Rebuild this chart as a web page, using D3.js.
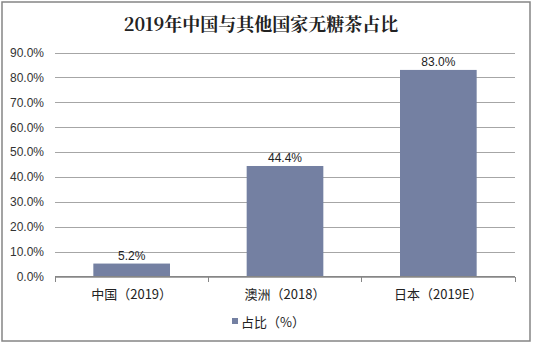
<!DOCTYPE html>
<html><head><meta charset="utf-8">
<script src="https://cdn.jsdelivr.net/npm/d3@7"></script>
<style>body{margin:0;background:#fff}svg{display:block}</style>
</head><body>
<svg id="c" width="534" height="345"></svg>
<script>
const title = "2019年中国与其他国家无糖茶占比";
const categories = ["中国（2019）", "澳洲（2018）", "日本（2019E）"];
const values = [5.2, 44.4, 83.0];
const yTicks = [0, 10, 20, 30, 40, 50, 60, 70, 80, 90];
const seriesName = "占比（%）";

const svg = d3.select("#c");
const W = 534, H = 345;
const m = {left: 55, right: 515, top: 52.5, bottom: 276.5};
const barColor = "#7480a2";

svg.append("rect").attr("x", 2).attr("y", 2).attr("width", 528).attr("height", 339)
  .attr("fill", "#fff").attr("stroke", "#858585").attr("stroke-width", 1.5);

svg.append("text").attr("x", 261).attr("y", 31).attr("text-anchor", "middle")
  .attr("font-family", "'Noto Serif CJK SC','Noto Sans CJK SC',serif").attr("font-weight", "bold")
  .attr("font-size", 18).attr("fill", "#222").text(title);

const x = d3.scaleBand().domain(categories).range([m.left, m.right]).paddingInner(0.5).paddingOuter(0.25);
const y = d3.scaleLinear().domain([0, 90]).range([m.bottom, m.top]);

const yAxis = d3.axisLeft(y).tickValues(yTicks).tickFormat(d => d.toFixed(1) + "%")
  .tickSize(-(m.right - m.left)).tickPadding(11);
const gy = svg.append("g").attr("transform", `translate(${m.left},0)`).call(yAxis);
gy.select(".domain").remove();
gy.selectAll(".tick line").attr("stroke", "#a6a6a6").attr("shape-rendering", "crispEdges");
gy.selectAll(".tick text").attr("font-family", "'Liberation Sans',Arial,sans-serif")
  .attr("font-size", 12).attr("fill", "#333");

// bars
svg.append("g").selectAll("rect").data(values).join("rect")
  .attr("x", (d, i) => x(categories[i])).attr("width", x.bandwidth())
  .attr("y", d => y(d)).attr("height", d => y(0) - y(d)).attr("fill", barColor);

// value labels
svg.append("g").selectAll("text").data(values).join("text")
  .attr("x", (d, i) => x(categories[i]) + x.bandwidth() / 2).attr("y", d => y(d) - 4)
  .attr("text-anchor", "middle").attr("font-family", "'Liberation Sans',Arial,sans-serif")
  .attr("font-size", 12).attr("fill", "#222").text(d => d.toFixed(1) + "%");

// x axis
const step = (m.right - m.left) / categories.length;
const gx = svg.append("g");
gx.append("line").attr("x1", m.left).attr("x2", m.right).attr("y1", y(0)).attr("y2", y(0))
  .attr("stroke", "#868686").attr("shape-rendering", "crispEdges");
gx.selectAll("line.tk").data(d3.range(categories.length + 1)).join("line").attr("class", "tk")
  .attr("x1", i => m.left + i * step).attr("x2", i => m.left + i * step)
  .attr("y1", y(0)).attr("y2", y(0) + 5).attr("stroke", "#868686").attr("shape-rendering", "crispEdges");
gx.selectAll("text").data(categories).join("text")
  .attr("x", d => x(d) + x.bandwidth() / 2).attr("y", 299).attr("text-anchor", "middle")
  .attr("font-family", "'Noto Sans CJK SC',sans-serif").attr("font-size", 13).attr("fill", "#222")
  .text(d => d);

// legend
svg.append("rect").attr("x", 232).attr("y", 318).attr("width", 6).attr("height", 6).attr("fill", barColor);
svg.append("text").attr("x", 241).attr("y", 327).attr("font-family", "'Noto Sans CJK SC',sans-serif")
  .attr("font-size", 13).attr("fill", "#222").text(seriesName);
</script>
</body></html>
